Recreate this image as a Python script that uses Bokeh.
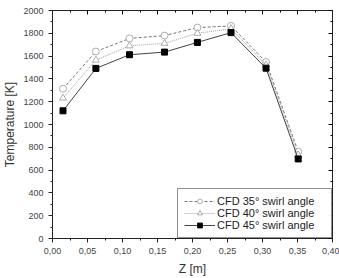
from bokeh.plotting import figure
from bokeh.models import (LinearAxis, FixedTicker, CustomJSTickFormatter, Legend, LegendItem, Range1d)
from bokeh.embed import file_html
from bokeh.resources import INLINE

z = [0.015, 0.062, 0.110, 0.160, 0.207, 0.255, 0.305, 0.351]
t35 = [1314, 1640, 1755, 1780, 1850, 1865, 1548, 762]
t40 = [1232, 1565, 1690, 1712, 1800, 1840, 1522, 732]
t45 = [1120, 1492, 1612, 1635, 1720, 1806, 1494, 698]
labels = ["CFD 35° swirl angle", "CFD 40° swirl angle", "CFD 45° swirl angle"]

FONT = "Liberation Sans"
p = figure(width=339, height=278, output_backend="svg", toolbar_location=None,
           x_range=Range1d(0, 0.40), y_range=Range1d(0, 2000),
           min_border_left=45, min_border_right=7, min_border_top=10, min_border_bottom=35)
p.grid.visible = False
p.outline_line_color = "#222222"
p.background_fill_color = "white"

xt = FixedTicker(ticks=[0, 0.05, 0.10, 0.15, 0.20, 0.25, 0.30, 0.35, 0.40],
                 minor_ticks=[0.025 + 0.05 * i for i in range(8)])
yt = FixedTicker(ticks=list(range(0, 2001, 200)), minor_ticks=list(range(100, 2000, 200)))

for ax in (p.xaxis[0], p.yaxis[0]):
    ax.major_label_text_font = FONT
    ax.major_label_text_font_size = "9px"
    ax.major_label_text_color = "#444444"
    ax.axis_label_text_font = FONT
    ax.axis_label_text_font_size = "12px"
    ax.axis_label_text_font_style = "normal"
    ax.axis_label_text_color = "#333333"
    ax.axis_line_color = "#222222"
    ax.major_tick_line_color = "#222222"
    ax.minor_tick_line_color = "#222222"
    ax.major_tick_out = 4
    ax.major_tick_in = 0
    ax.minor_tick_out = 2
    ax.minor_tick_in = 0
p.xaxis[0].ticker = xt
p.yaxis[0].ticker = yt
p.xaxis[0].formatter = CustomJSTickFormatter(code="return tick.toFixed(2).replace('.', ',');")
p.xaxis[0].axis_label = "Z [m]"
p.yaxis[0].axis_label = "Temperature [K]"
p.xaxis[0].axis_label_standoff = 5
p.yaxis[0].axis_label_standoff = 3

blank = CustomJSTickFormatter(code="return '';")
top = LinearAxis(ticker=xt, formatter=blank, major_tick_in=4, major_tick_out=0,
                 minor_tick_in=2, minor_tick_out=0, axis_line_color="#222222")
right = LinearAxis(ticker=yt, formatter=blank, major_tick_in=4, major_tick_out=0,
                   minor_tick_in=2, minor_tick_out=0, axis_line_color="#222222")
p.add_layout(top, "above")
p.add_layout(right, "right")

l35 = p.line(z, t35, line_color="#555555", line_dash="3 2", line_width=0.8)
m35 = p.scatter(z, t35, marker="circle", size=7, fill_color="white", line_color="#999999", line_width=0.8)
l40 = p.line(z, t40, line_color="#888888", line_dash="1 1", line_width=0.8)
m40 = p.scatter(z, t40, marker="triangle", size=7, fill_color="white", line_color="#999999", line_width=0.8)
l45 = p.line(z, t45, line_color="#444444", line_width=1)
m45 = p.scatter(z, t45, marker="square", size=6, fill_color="black", line_color="black")

legend = Legend(items=[LegendItem(label=labels[0], renderers=[l35, m35]),
                       LegendItem(label=labels[1], renderers=[l40, m40]),
                       LegendItem(label=labels[2], renderers=[l45, m45])],
                location="bottom_right", margin=0, padding=6, spacing=0,
                label_text_font=FONT, label_text_font_size="11px", label_text_color="#222222",
                label_height=12, glyph_height=12, glyph_width=31, label_standoff=2, label_width=108,
                border_line_color="#222222", border_line_width=1)
p.add_layout(legend)

open("out.html", "w").write(file_html(p, INLINE))
